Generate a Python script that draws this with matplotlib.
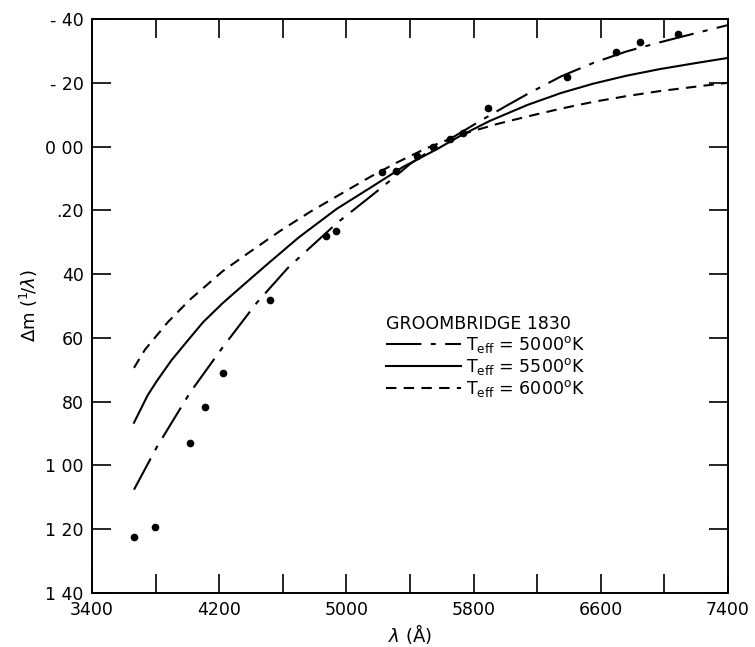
import matplotlib
matplotlib.use("Agg")
import matplotlib.pyplot as plt

# observed points
wl_obs = [3664, 3796, 4016, 4111, 4224, 4519, 4872, 4935, 5224, 5312,
          5444, 5545, 5652, 5733, 5888, 6387, 6698, 6846, 7085]
dm_obs = [1.224, 1.192, 0.929, 0.816, 0.710, 0.481, 0.280, 0.265, 0.080, 0.076,
          0.030, 0.000, -0.025, -0.043, -0.122, -0.217, -0.295, -0.328, -0.353]

# model curves
wl_5000 = [3664, 3808, 4016, 4224, 4436, 4633, 4940, 5148, 5255, 5400,
           5550, 5700, 5840, 6000, 6136, 6350, 6551, 6760, 6972, 7200, 7400]
dm_5000 = [1.076, 0.942, 0.772, 0.628, 0.490, 0.380, 0.240, 0.158, 0.115, 0.055,
           0.005, -0.038, -0.080, -0.126, -0.164, -0.220, -0.262, -0.298, -0.327,
           -0.356, -0.381]

wl_5500 = [3664, 3750, 3808, 3900, 4016, 4100, 4224, 4350, 4500, 4700,
           4940, 5148, 5356, 5570, 5714, 5900, 6136, 6350, 6551, 6760, 6972,
           7200, 7400]
dm_5500 = [0.866, 0.780, 0.735, 0.670, 0.600, 0.550, 0.490, 0.435, 0.370, 0.285,
           0.195, 0.130, 0.064, 0.008, -0.033, -0.080, -0.130, -0.168, -0.197,
           -0.222, -0.243, -0.262, -0.278]

wl_6000 = [3664, 3733, 3878, 4016, 4224, 4394, 4582, 4771, 4960, 5150,
           5318, 5500, 5640, 5777, 5950, 6136, 6350, 6551, 6760, 6972, 7200, 7400]
dm_6000 = [0.694, 0.637, 0.550, 0.480, 0.390, 0.330, 0.265, 0.205, 0.150, 0.095,
           0.050, 0.006, -0.022, -0.046, -0.071, -0.094, -0.119, -0.140, -0.158,
           -0.174, -0.188, -0.200]

x_ticks = [3400, 3800, 4200, 4600, 5000, 5400, 5800, 6200, 6600, 7000, 7400]
x_labels = ["3400", "", "4200", "", "5000", "", "5800", "", "6600", "", "7400"]
y_ticks = [-0.4, -0.2, 0.0, 0.2, 0.4, 0.6, 0.8, 1.0, 1.2, 1.4]
y_labels = ["- 40", "- 20", "0 00", ".20", "40", "60", "80", "1 00", "1 20", "1 40"]

fig = plt.figure(figsize=(7.55, 6.47), dpi=100)
ax = fig.add_axes([92 / 755, 1 - 593 / 647, 636 / 755, 574 / 647])

lw = 1.5
ax.plot(wl_5000, dm_5000, color="black", lw=lw, dashes=[17, 4.5, 2.4, 4.5],
        solid_joinstyle="round", label=r"T$_{\rm eff}$ = 5000$^{\rm o}$K")
ax.plot(wl_5500, dm_5500, color="black", lw=lw, solid_joinstyle="round",
        label=r"T$_{\rm eff}$ = 5500$^{\rm o}$K")
ax.plot(wl_6000, dm_6000, color="black", lw=lw, dashes=[5, 3.5],
        solid_joinstyle="round", label=r"T$_{\rm eff}$ = 6000$^{\rm o}$K")
ax.plot(wl_obs, dm_obs, "o", color="black", ms=4.5, ls="none")

ax.set_xlim(3400, 7400)
ax.set_ylim(1.4, -0.4)
ax.set_xticks(x_ticks)
ax.set_xticklabels(x_labels)
ax.set_yticks(y_ticks)
ax.set_yticklabels(y_labels)
ax.tick_params(direction="in", length=13.5, width=1.2, top=True, right=True,
               labelsize=12.5, pad=6)
for s in ax.spines.values():
    s.set_linewidth(1.4)

ax.set_xlabel(r"$\lambda$ (Å)", fontsize=13, labelpad=2)
ax.set_ylabel(r"$\Delta$m ($^{1}\!/\lambda$)", fontsize=13, labelpad=4)

leg = ax.legend(loc="upper left", bbox_to_anchor=(386 / 755, 1 - 315 / 647),
                bbox_transform=fig.transFigure, frameon=False,
                title="GROOMBRIDGE 1830", alignment="left",
                fontsize=12.5, title_fontsize=12.5, handlelength=4.3,
                handletextpad=0.3, labelspacing=0.05, borderaxespad=0,
                borderpad=0)

fig.savefig("out.png", dpi=100)
